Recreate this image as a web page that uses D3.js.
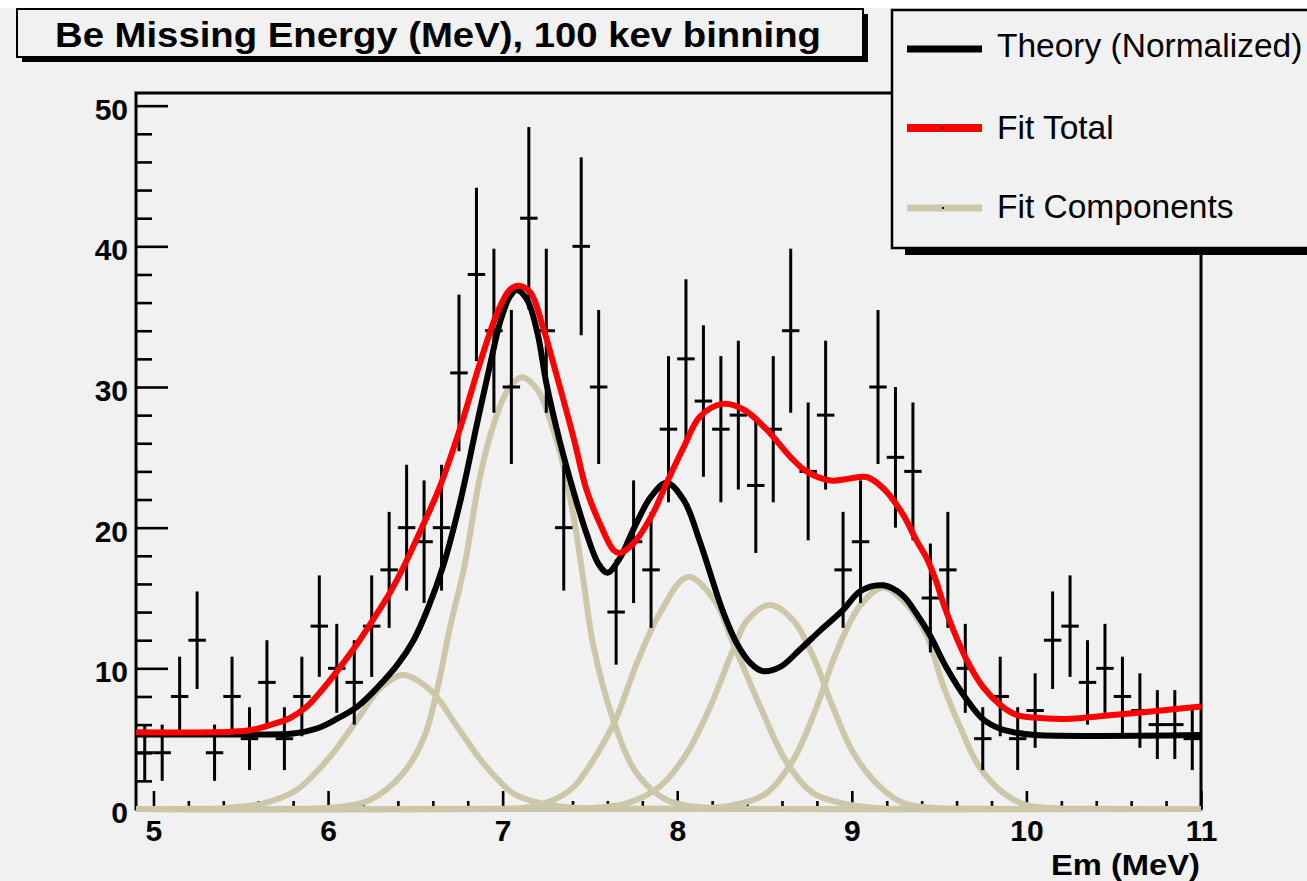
<!DOCTYPE html>
<html>
<head>
<meta charset="utf-8">
<script src="https://cdn.jsdelivr.net/npm/d3@7"></script>
<style>
  body { margin: 0; background: #ffffff; }
  svg { display: block; font-family: "Liberation Sans", Arial, sans-serif; }
</style>
</head>
<body>
<svg id="chart" width="1307" height="881"></svg>
<script>
// histogram: 100 keV bins
var binCenters = [4.95, 5.05, 5.15, 5.25, 5.35, 5.45, 5.55, 5.65, 5.75, 5.85, 5.95, 6.05, 6.15, 6.25, 6.35, 6.45, 6.55, 6.65, 6.75, 6.85, 6.95,
  7.05, 7.15, 7.25, 7.35, 7.45, 7.55, 7.65, 7.75, 7.85, 7.95, 8.05, 8.15, 8.25, 8.35, 8.45, 8.55, 8.65, 8.75, 8.85, 8.95,
  9.05, 9.15, 9.25, 9.35, 9.45, 9.55, 9.65, 9.75, 9.85, 9.95, 10.05, 10.15, 10.25, 10.35, 10.45, 10.55, 10.65, 10.75, 10.85, 10.95];
var counts = [4, 4, 8, 12, 4, 8, 5, 9, 5, 8, 13, 10, 9, 13, 17, 20, 19, 20, 31, 38, 34,
  30, 42, 34, 20, 40, 30, 14, 19, 17, 27, 32, 29, 27, 28, 23, 27, 34, 24, 28, 17,
  19, 30, 25, 24, 15, 17, 10, 5, 8, 5, 7, 12, 13, 9, 10, 8, 7, 6, 6, 5];
var binHalfWidth = 0.05;

// curves, [Em, value]
var theoryCurve = [[4.9, 5.3], [5.5, 5.3], [5.8, 5.36], [5.94, 5.74], [6.05, 6.4], [6.17, 7.3], [6.28, 8.6], [6.4, 10.3],
  [6.49, 12.0], [6.57, 14.2], [6.66, 17.3], [6.76, 22.0], [6.85, 27.2], [6.93, 31.7], [6.99, 34.8],
  [7.04, 36.4], [7.08, 36.9], [7.14, 36.2], [7.2, 33.8], [7.25, 30.3], [7.33, 26.0], [7.41, 22.4], [7.48, 19.6],
  [7.55, 17.4], [7.6, 16.8], [7.67, 17.8], [7.75, 19.9], [7.85, 22.2], [7.94, 23.2], [8.04, 21.9],
  [8.13, 19.0], [8.26, 14.1], [8.34, 11.8], [8.42, 10.36], [8.49, 9.8], [8.59, 10.1], [8.7, 11.3],
  [8.82, 12.7], [8.95, 14.15], [9.05, 15.5], [9.18, 15.9], [9.29, 15.2], [9.37, 13.9], [9.45, 12.3], [9.54, 10.1],
  [9.66, 7.75], [9.75, 6.4], [9.85, 5.7], [9.93, 5.45], [10.05, 5.26], [11.0, 5.26]];

var fitTotal = [[4.9, 5.45], [5.45, 5.5], [5.56, 5.62], [5.67, 5.98], [5.78, 6.45], [5.88, 7.3], [5.975, 8.6], [6.07, 10.1],
  [6.17, 11.8], [6.26, 13.5], [6.36, 15.5], [6.44, 17.4], [6.53, 19.8], [6.64, 22.9], [6.76, 27.2], [6.87, 31.7],
  [6.97, 35.3], [7.04, 36.9], [7.09, 37.2], [7.16, 36.7], [7.23, 34.3], [7.31, 30.8], [7.41, 26.2], [7.48, 22.7],
  [7.56, 20.2], [7.635, 18.4], [7.67, 18.2], [7.75, 18.9], [7.86, 21.0], [7.94, 23.2], [8.04, 25.8], [8.13, 27.9],
  [8.26, 28.8], [8.38, 28.4], [8.51, 27.0], [8.65, 25.0], [8.74, 24.0], [8.88, 23.35], [8.99, 23.5], [9.085, 23.6],
  [9.18, 22.8], [9.29, 21.0], [9.37, 19.1], [9.43, 17.8], [9.48, 16.3], [9.53, 14.4], [9.65, 10.8], [9.75, 8.7],
  [9.85, 7.4], [9.94, 6.7], [10.04, 6.5], [10.23, 6.4], [10.42, 6.6], [10.61, 6.8], [10.8, 7.04], [11.0, 7.28]];

var comp1 = [[4.9, 0], [5.2, 0.01], [5.4, 0.06], [5.63, 0.4], [5.82, 1.35], [6.01, 3.7], [6.17, 6.4], [6.3, 8.6], [6.43, 9.53],
  [6.59, 8.4], [6.74, 5.85], [6.89, 3.25], [7.06, 1.12], [7.22, 0.4], [7.45, 0.06], [7.7, 0.01], [11.0, 0]];
var comp2 = [[4.9, 0], [5.8, 0.01], [6.05, 0.12], [6.24, 0.64], [6.43, 2.54], [6.55, 5.1], [6.62, 8.2], [6.7, 13.0], [6.78, 17.2],
  [6.87, 23.6], [6.95, 27.4], [7.03, 29.8], [7.11, 30.7], [7.2, 29.8], [7.27, 27.7], [7.35, 24.3], [7.41, 20.5],
  [7.46, 16.5], [7.52, 11.6], [7.635, 6.3], [7.77, 2.5], [7.94, 0.64], [8.15, 0.1], [8.4, 0.01], [11.0, 0]];
var comp3 = [[4.9, 0], [6.9, 0.01], [7.15, 0.12], [7.33, 0.88], [7.41, 1.6], [7.52, 3.5], [7.645, 6.3], [7.77, 10.4], [7.9, 13.9],
  [8.06, 16.5], [8.21, 14.9], [8.32, 11.8], [8.475, 7.3], [8.63, 3.25], [8.78, 1.12], [8.95, 0.4], [9.15, 0.06],
  [9.4, 0.01], [11.0, 0]];
var comp4 = [[4.9, 0], [7.3, 0.01], [7.52, 0.08], [7.71, 0.4], [7.9, 1.6], [8.055, 3.96], [8.19, 7.3], [8.32, 11.3], [8.4, 13.4],
  [8.53, 14.5], [8.665, 13.4], [8.78, 10.8], [8.89, 7.3], [9.01, 3.96], [9.16, 1.59], [9.3, 0.4], [9.5, 0.06],
  [9.75, 0.01], [11.0, 0]];
var comp5 = [[4.9, 0], [7.9, 0.01], [8.12, 0.06], [8.32, 0.28], [8.51, 1.12], [8.665, 3.5], [8.8, 7.3], [8.91, 11.1], [9.05, 14.5],
  [9.18, 15.75], [9.31, 14.6], [9.43, 12.3], [9.52, 8.9], [9.62, 5.85], [9.73, 3.0], [9.87, 1.12], [10.0, 0.28],
  [10.2, 0.04], [10.45, 0.01], [11.0, 0]];

var xMajorTicks = [5, 6, 7, 8, 9, 10, 11];
var yMajorTicks = [0, 10, 20, 30, 40, 50];
var legendLabels = ["Theory (Normalized)", "Fit Total", "Fit Components"];

var bg = "#f1f1f1";
var tan = "#cdc7aa";
var frame = { left: 136, right: 1201, top: 93, bottom: 809 };

var svg = d3.select("#chart");

// canvas
svg.append("rect").attr("x", 0).attr("y", 8).attr("width", 1307).attr("height", 873).attr("fill", bg);

var x = d3.scaleLinear().domain([4.9, 11]).range([frame.left, frame.right]);
var y = d3.scaleLinear().domain([0, 50.9]).range([frame.bottom, frame.top]);

// frame
svg.append("rect")
  .attr("x", frame.left).attr("y", frame.top)
  .attr("width", frame.right - frame.left).attr("height", frame.bottom - frame.top)
  .attr("fill", "none").attr("stroke", "black").attr("stroke-width", 3);

// x axis, ticks pointing inward
var xMinor = d3.range(5, 11.001, 0.2).filter(function (v) { return Math.abs(v - Math.round(v)) > 0.01; });
svg.append("g").attr("transform", "translate(0," + frame.bottom + ")")
  .call(d3.axisBottom(x).tickValues(xMinor).tickSize(-8).tickFormat(""))
  .call(function (g) { g.select(".domain").remove(); });
svg.append("g").attr("class", "xaxis").attr("transform", "translate(0," + frame.bottom + ")")
  .call(d3.axisBottom(x).tickValues(xMajorTicks).tickSize(-18).tickPadding(11).tickFormat(d3.format("d")))
  .call(function (g) { g.select(".domain").remove(); });

// y axis
var yMinor = d3.range(0, 51, 2).filter(function (v) { return v % 10 != 0; });
svg.append("g").attr("transform", "translate(" + frame.left + ",0)")
  .call(d3.axisLeft(y).tickValues(yMinor).tickSize(-16).tickFormat(""))
  .call(function (g) { g.select(".domain").remove(); });
svg.append("g").attr("class", "yaxis").attr("transform", "translate(" + frame.left + ",0)")
  .call(d3.axisLeft(y).tickValues(yMajorTicks).tickSize(-32).tickPadding(8).tickFormat(d3.format("d")))
  .call(function (g) { g.select(".domain").remove(); });

svg.selectAll(".tick line").attr("stroke", "black").attr("stroke-width", 2.6);
svg.selectAll(".xaxis text, .yaxis text")
  .attr("fill", "black").style("font-size", "30px").style("font-weight", "bold")
  .style("font-family", "'Liberation Sans', Arial, sans-serif");
svg.selectAll(".yaxis text").attr("dy", "0.45em");

// axis title
svg.append("text")
  .attr("x", 1200).attr("y", 875)
  .attr("text-anchor", "end")
  .style("font-size", "29px").style("font-weight", "bold")
  .attr("textLength", 149).attr("lengthAdjust", "spacingAndGlyphs")
  .text("Em (MeV)");

// curves
var line = d3.line()
  .x(function (d) { return x(d[0]); })
  .y(function (d) { return y(d[1]); })
  .curve(d3.curveCatmullRom.alpha(0.5));

var comps = [comp1, comp2, comp3, comp4, comp5];
svg.append("g").selectAll("path")
  .data(comps)
  .enter()
  .append("path")
  .attr("d", line)
  .attr("fill", "none")
  .attr("stroke", tan)
  .attr("stroke-width", 6);

svg.append("path").datum(theoryCurve)
  .attr("d", line).attr("fill", "none")
  .attr("stroke", "black").attr("stroke-width", 6);

// data points with errors
var points = binCenters.map(function (c, i) { return { x: c, n: counts[i], err: Math.sqrt(counts[i]) }; });
var pts = svg.append("g").attr("stroke", "black").attr("stroke-width", 3);
pts.selectAll(".ev").data(points).enter().append("line")
  .attr("x1", function (d) { return x(d.x); }).attr("x2", function (d) { return x(d.x); })
  .attr("y1", function (d) { return y(d.n - d.err); }).attr("y2", function (d) { return y(d.n + d.err); });
pts.selectAll(".eh").data(points).enter().append("line")
  .attr("x1", function (d) { return x(d.x - binHalfWidth); }).attr("x2", function (d) { return x(d.x + binHalfWidth); })
  .attr("y1", function (d) { return y(d.n); }).attr("y2", function (d) { return y(d.n); });

svg.append("path").datum(fitTotal)
  .attr("d", line).attr("fill", "none")
  .attr("stroke", "#ff0000").attr("stroke-width", 6);

// title box
svg.append("rect").attr("x", 22).attr("y", 14).attr("width", 846).attr("height", 48).attr("fill", "black");
svg.append("rect").attr("x", 17).attr("y", 9).attr("width", 846).attr("height", 48)
  .attr("fill", bg).attr("stroke", "black").attr("stroke-width", 2);
svg.append("text")
  .attr("x", 438).attr("y", 47)
  .attr("text-anchor", "middle")
  .style("font-size", "35px").style("font-weight", "bold")
  .attr("textLength", 766).attr("lengthAdjust", "spacingAndGlyphs")
  .text("Be Missing Energy (MeV), 100 kev binning");

// legend
svg.append("rect").attr("x", 905).attr("y", 246).attr("width", 420).attr("height", 9).attr("fill", "black");
svg.append("rect").attr("x", 892).attr("y", 10).attr("width", 430).attr("height", 238)
  .attr("fill", bg).attr("stroke", "black").attr("stroke-width", 2.5);

var legendColors = ["black", "#ff0000", tan];
var legendY = [49, 128, 208];
var legendBase = [57, 139, 218];
var leg = svg.append("g");
legendLabels.forEach(function (lab, i) {
  leg.append("line")
    .attr("x1", 907).attr("x2", 982)
    .attr("y1", legendY[i]).attr("y2", legendY[i])
    .attr("stroke", legendColors[i]).attr("stroke-width", i == 1 ? 8 : 7);
  if (i > 0) {
    leg.append("rect").attr("x", 942).attr("y", legendY[i] - 1).attr("width", 2).attr("height", 2).attr("fill", "black");
  }
  leg.append("text")
    .attr("x", 997).attr("y", legendBase[i])
    .style("font-size", "33.5px")
    .text(lab);
});
</script>
</body>
</html>
